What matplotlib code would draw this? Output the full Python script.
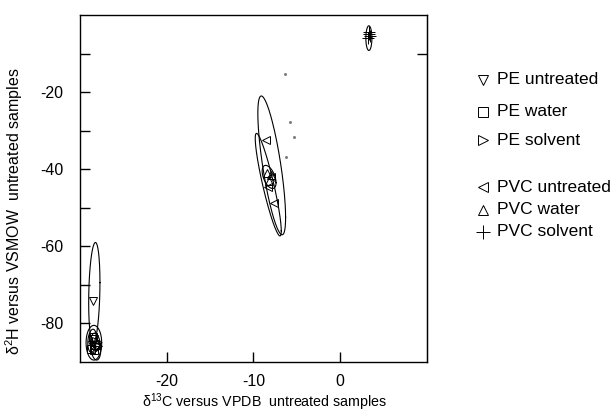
import numpy as np
import matplotlib

matplotlib.use("Agg")
import matplotlib.pyplot as plt

plt.rcParams["font.family"] = ["Liberation Sans", "DejaVu Sans"]
plt.rcParams["mathtext.fontset"] = "custom"
plt.rcParams["mathtext.rm"] = "Liberation Sans"

# pontos por grupo (δ13C, δ2H)
pe_untreated_x = [-28.5, -28.4, -28.2, -28.6]
pe_untreated_y = [-74.3, -84.0, -86.0, -85.5]
pe_water_x = [-28.5, -28.3, -28.7, -28.4]
pe_water_y = [-83.5, -85.5, -86.5, -87.0]
pe_solvent_x = [-28.1, -28.3, -27.9]
pe_solvent_y = [-84.5, -86.5, -85.8]
pvc_untreated_x = [-8.6, -8.0, -8.3, -7.6]
pvc_untreated_y = [-32.3, -42.0, -44.6, -48.8]
pvc_water_x = [-8.4, -8.0, -8.2]
pvc_water_y = [-41.0, -41.5, -43.0]
pvc_solvent_x = [3.3, 3.4, 3.2, 3.35]
pvc_solvent_y = [-4.5, -5.5, -6.0, -5.0]

# pontinhos cinza soltos
dots_x = [-6.4, -5.75, -5.3, -6.2]
dots_y = [-15.2, -27.8, -31.7, -36.9]

# elipses: centro, meia-largura, meia-altura, correlação
ell_cx = [-7.9, -8.3, -8.2, -28.35, -28.4, -28.6, -28.2, 3.3]
ell_cy = [-39.0, -44.0, -42.0, -72.0, -85.0, -84.5, -86.0, -6.0]
ell_hx = [1.6, 1.5, 0.8, 0.65, 0.9, 0.5, 0.6, 0.35]
ell_hy = [18.0, 13.3, 3.0, 13.0, 4.5, 3.0, 3.5, 3.2]
ell_rho = [-0.75, -0.9, -0.5, 0.2, 0.0, 0.2, -0.2, 0.0]

groups = [
    ("PE untreated", "v", pe_untreated_x, pe_untreated_y),
    ("PE water", "s", pe_water_x, pe_water_y),
    ("PE solvent", ">", pe_solvent_x, pe_solvent_y),
    ("PVC untreated", "<", pvc_untreated_x, pvc_untreated_y),
    ("PVC water", "^", pvc_water_x, pvc_water_y),
    ("PVC solvent", "+", pvc_solvent_x, pvc_solvent_y),
]
legend_y = [80, 112, 140, 187, 210, 232]  # pixels from top

fig = plt.figure(figsize=(6.16, 4.12), dpi=100)
ax = fig.add_axes([80 / 616, 50 / 412, 347 / 616, 347 / 412])

t = np.linspace(0, 2 * np.pi, 200)
for cx, cy, hx, hy, r in zip(ell_cx, ell_cy, ell_hx, ell_hy, ell_rho):
    ex = cx + hx * np.cos(t)
    ey = cy + hy * (r * np.cos(t) + np.sqrt(1 - r ** 2) * np.sin(t))
    ax.plot(ex, ey, color="black", lw=0.8)

for nome, mk, xs, ys in groups:
    ax.plot(xs, ys, ls="none", marker=mk, ms=6 if mk != "+" else 8,
            mfc="none", mec="black", mew=0.7)

ax.plot(dots_x, dots_y, ls="none", marker="o", ms=1.2, color="0.5")

ax.set_xlim(-30, 10)
ax.set_ylim(-90, 0)
ax.set_xticks([-20, -10, 0])
ax.set_xticklabels(["-20", "-10", "0"])
ax.set_yticks([-80, -70, -60, -50, -40, -30, -20, -10])
ax.set_yticklabels(["-80", "", "-60", "", "-40", "", "-20", ""])
ax.tick_params(direction="in", length=7.5, width=1, labelsize=11.5, pad=9,
               colors="black")
ax.tick_params(axis="y", pad=12)
for s in ax.spines.values():
    s.set_linewidth(1)

# tique solto no eixo da direita
ax_r = ax.secondary_yaxis("right")
ax_r.set_yticks([-10])
ax_r.set_yticklabels([""])
ax_r.tick_params(direction="in", length=7.5, width=1)

ax.set_xlabel(r"δ$^{13}$C versus VPDB  untreated samples", fontsize=10.3)
ax.xaxis.set_label_coords(0.533, -0.085)
ax.set_ylabel(r"δ$^{2}$H versus VSMOW  untreated samples", fontsize=11.5)
ax.yaxis.set_label_coords(-0.158, 0.435)

# legenda manual
for (nome, mk, _, _), py in zip(groups, legend_y):
    fy = 1 - py / 412
    fig.lines.append(plt.Line2D([483 / 616], [fy], transform=fig.transFigure,
                                ls="none", marker=mk, ms=7 if mk != "+" else 10,
                                mfc="none", mec="black", mew=0.7))
    fig.text(497 / 616, fy, nome, fontsize=12.5, va="center", ha="left")

fig.savefig("out.png", dpi=100)
